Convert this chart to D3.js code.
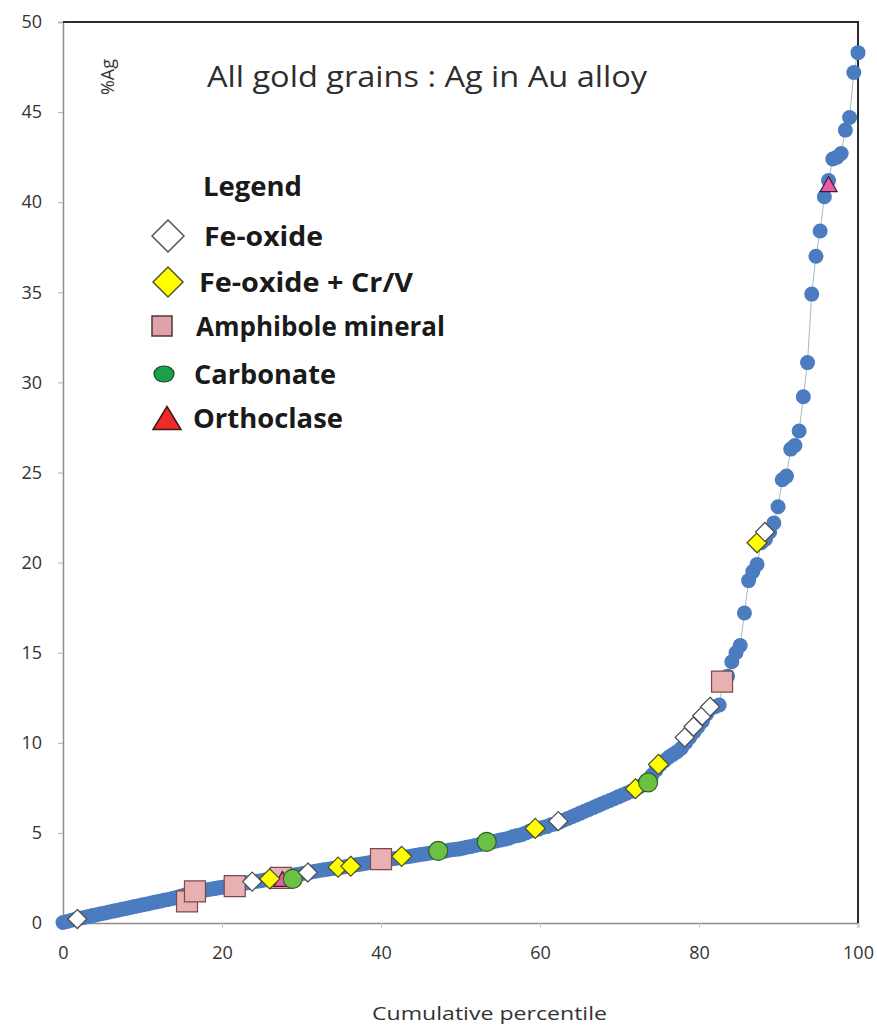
<!DOCTYPE html>
<html>
<head>
<meta charset="utf-8">
<script src="https://cdn.jsdelivr.net/npm/d3@7"></script>
<style>
  html, body { margin: 0; padding: 0; background: #ffffff; }
  svg { display: block; }
</style>
</head>
<body>
<svg id="chart" width="877" height="1036"></svg>
<script>
// %Ag of every gold grain, sorted ascending (cumulative distribution)
const agSorted = [
  0.03,0.09,0.15,0.21,0.26,0.31,0.36,0.41,0.46,0.51,
  0.56,0.61,0.66,0.71,0.76,0.81,0.86,0.91,0.96,1.01,
  1.06,1.11,1.16,1.21,1.26,1.31,1.36,1.42,1.48,1.55,
  1.62,1.68,1.74,1.79,1.83,1.87,1.91,1.95,1.99,2.03,
  2.07,2.11,2.15,2.19,2.23,2.27,2.31,2.35,2.39,2.43,
  2.47,2.51,2.55,2.59,2.63,2.67,2.71,2.75,2.79,2.83,
  2.87,2.91,2.95,2.98,3.02,3.05,3.08,3.12,3.16,3.20,
  3.24,3.28,3.32,3.36,3.40,3.43,3.47,3.50,3.55,3.58,
  3.62,3.65,3.68,3.72,3.76,3.80,3.83,3.87,3.90,3.93,
  3.97,4.00,4.05,4.08,4.10,4.15,4.20,4.25,4.30,4.35,
  4.40,4.45,4.50,4.55,4.60,4.65,4.70,4.80,4.85,4.90,
  5.00,5.10,5.15,5.20,5.30,5.35,5.45,5.50,5.60,5.70,
  5.80,5.90,6.00,6.10,6.20,6.30,6.40,6.50,6.60,6.70,
  6.80,6.90,7.00,7.10,7.20,7.30,7.40,7.55,7.70,7.90,
  8.20,8.50,8.80,9.00,9.20,9.35,9.50,9.70,10.0,10.3,
  10.6,10.9,11.2,11.6,11.9,12.0,12.1,13.4,13.7,14.5,
  15.0,15.4,17.2,19.0,19.5,19.9,21.1,21.3,21.7,22.2,
  23.1,24.6,24.8,26.3,26.5,27.3,29.2,31.1,34.9,37.0,
  38.4,40.3,41.2,42.4,42.5,42.7,44.0,44.7,47.2,48.3
];

// Grains with an identified inclusion mineral: cumulative percentile and %Ag
const feOxidePct = [1.8, 23.8, 30.8, 62.3, 78.2, 79.3, 80.4, 81.4, 88.3];
const feOxideAg  = [0.22, 2.3, 2.8, 5.65, 10.3, 10.9, 11.5, 12.0, 21.7];
const feOxideCrVPct = [26.0, 34.6, 36.2, 42.6, 59.4, 72.0, 74.9, 87.3];
const feOxideCrVAg  = [2.45, 3.1, 3.15, 3.7, 5.25, 7.45, 8.8, 21.1];
const amphibolePct = [15.6, 16.6, 21.6, 27.4, 40.0, 82.9];
const amphiboleAg  = [1.2, 1.75, 2.05, 2.5, 3.55, 13.4];
const carbonatePct = [28.9, 47.2, 53.3, 73.6];
const carbonateAg  = [2.45, 4.0, 4.5, 7.8];
const orthoclasePct = [27.6, 96.3];
const orthoclaseAg  = [2.45, 41.0];

// Axis ticks
const yTicks = [0, 5, 10, 15, 20, 25, 30, 35, 40, 45, 50];
const xTicks = [0, 20, 40, 60, 80, 100];

const legendItems = [
  { label: "Fe-oxide", key: "feOxide" },
  { label: "Fe-oxide + Cr/V", key: "feOxideCrV" },
  { label: "Amphibole mineral", key: "amphibole" },
  { label: "Carbonate", key: "carbonate" },
  { label: "Orthoclase", key: "orthoclase" }
];

const FONT = "'Open Sans', 'Noto Sans', sans-serif";
const svg = d3.select("#chart");

const plot = { left: 63, right: 858, top: 22, bottom: 923 };
const x = d3.scaleLinear().domain([0, 100]).range([plot.left, plot.right]);
const y = d3.scaleLinear().domain([0, 50]).range([plot.bottom, plot.top]);

// Axes
const yAxis = d3.axisLeft(y).tickValues(yTicks).tickSize(5).tickPadding(16).tickFormat(d3.format("d"));
const gy = svg.append("g").attr("transform", `translate(${plot.left},0)`).call(yAxis);
gy.select(".domain").attr("stroke", "#8c8c8c").attr("stroke-width", 1.5);
gy.selectAll(".tick line").attr("stroke", "#b0b0b0");
gy.selectAll(".tick text").attr("font-family", FONT).attr("font-size", 18).attr("fill", "#333");

const xAxis = d3.axisBottom(x).tickValues(xTicks).tickSize(5).tickPadding(18).tickFormat(d3.format("d"));
const gx = svg.append("g").attr("transform", `translate(0,${plot.bottom})`).call(xAxis);
gx.select(".domain").attr("stroke", "#8c8c8c").attr("stroke-width", 1.5);
gx.selectAll(".tick line").attr("stroke", "#c8c8c8");
gx.selectAll(".tick text").attr("font-family", FONT).attr("font-size", 18).attr("fill", "#333");

// Dark frame on the top and right sides
svg.append("path")
  .attr("d", `M${plot.left},${plot.top}H${plot.right}V${plot.bottom}`)
  .attr("fill", "none").attr("stroke", "#2b2b2b").attr("stroke-width", 2);

// All grains
const pts = agSorted.map((v, i) => ({ p: i / (agSorted.length - 1) * 100, v }));

svg.append("path")
  .datum(pts)
  .attr("d", d3.line().x(d => x(d.p)).y(d => y(d.v)))
  .attr("fill", "none").attr("stroke", "#a9b8cc").attr("stroke-width", 1);

svg.append("g").selectAll("circle").data(pts).join("circle")
  .attr("cx", d => x(d.p)).attr("cy", d => y(d.v)).attr("r", 7.5)
  .attr("fill", "#4a7cbf");

// Marker shapes
const diamond = s => `M0,${-s}L${s},0L0,${s}L${-s},0Z`;
const square = s => `M${-s},${-s}H${s}V${s}H${-s}Z`;
const triangle = (w, h) => `M0,${-h / 2}L${w / 2},${h / 2}L${-w / 2},${h / 2}Z`;

function overlay(pcts, ags, draw) {
  const data = pcts.map((p, i) => ({ p, v: ags[i] }));
  const g = svg.append("g").selectAll("g").data(data).join("g")
    .attr("transform", d => `translate(${x(d.p)},${y(d.v)})`);
  draw(g);
}

overlay(amphibolePct, amphiboleAg, g => g.append("path").attr("d", square(10.5))
  .attr("fill", "#e8b0b0").attr("stroke", "#7a4a4a").attr("stroke-width", 1.2));
overlay(orthoclasePct, orthoclaseAg, g => g.append("path").attr("d", triangle(17, 15))
  .attr("fill", "#ef5aa6").attr("stroke", "#3a2030").attr("stroke-width", 1.2));
overlay(feOxideCrVPct, feOxideCrVAg, g => g.append("path").attr("d", diamond(10))
  .attr("fill", "#ffff00").attr("stroke", "#4a4a2a").attr("stroke-width", 1.2));
overlay(carbonatePct, carbonateAg, g => g.append("circle").attr("r", 9.5)
  .attr("fill", "#6cc043").attr("stroke", "#2e5e2e").attr("stroke-width", 1.2));
overlay(feOxidePct, feOxideAg, g => g.append("path").attr("d", diamond(9.5))
  .attr("fill", "#ffffff").attr("stroke", "#4a4a4a").attr("stroke-width", 1.2));

// Title and axis titles
svg.append("text").attr("x", 207).attr("y", 87)
  .attr("font-family", FONT).attr("font-size", 29).attr("fill", "#2e2e2e")
  .attr("textLength", 440).attr("lengthAdjust", "spacingAndGlyphs")
  .text("All gold grains : Ag in Au alloy");

svg.append("text").attr("transform", "translate(114,77) rotate(-90)")
  .attr("text-anchor", "middle")
  .attr("font-family", FONT).attr("font-size", 18).attr("fill", "#333")
  .text("%Ag");

svg.append("text").attr("x", 372).attr("y", 1020)
  .attr("font-family", FONT).attr("font-size", 19).attr("fill", "#333")
  .attr("textLength", 235).attr("lengthAdjust", "spacingAndGlyphs")
  .text("Cumulative percentile");

// Legend
svg.append("text").attr("x", 203).attr("y", 196)
  .attr("font-family", FONT).attr("font-weight", 700).attr("font-size", 26).attr("fill", "#1a1a1a")
  .attr("textLength", 99).attr("lengthAdjust", "spacingAndGlyphs")
  .text("Legend");

const legendRows = [
  { cy: 236, tx: 204, w: 119 },
  { cy: 282, tx: 199, w: 214 },
  { cy: 326, tx: 196, w: 249 },
  { cy: 374, tx: 194, w: 142 },
  { cy: 418, tx: 193, w: 150 }
];
const legendSym = {
  feOxide: g => g.append("path").attr("d", diamond(16)).attr("transform", "translate(168,0)")
    .attr("fill", "#fff").attr("stroke", "#555").attr("stroke-width", 1.5),
  feOxideCrV: g => g.append("path").attr("d", diamond(15)).attr("transform", "translate(168,0)")
    .attr("fill", "#ffff00").attr("stroke", "#555533").attr("stroke-width", 1.5),
  amphibole: g => g.append("path").attr("d", square(10)).attr("transform", "translate(162,0)")
    .attr("fill", "#e0a2a8").attr("stroke", "#4a3a3a").attr("stroke-width", 1.5),
  carbonate: g => g.append("ellipse").attr("cx", 164).attr("rx", 10).attr("ry", 8)
    .attr("fill", "#1ba04a").attr("stroke", "#1e4a2a").attr("stroke-width", 1.2),
  orthoclase: g => g.append("path").attr("d", triangle(28, 23)).attr("transform", "translate(167,0)")
    .attr("fill", "#ee2a2a").attr("stroke", "#3a1a1a").attr("stroke-width", 1.5)
};
legendItems.forEach((item, i) => {
  const row = legendRows[i];
  const g = svg.append("g").attr("transform", `translate(0,${row.cy})`);
  legendSym[item.key](g);
  g.append("text").attr("x", row.tx).attr("y", 10)
    .attr("font-family", FONT).attr("font-weight", 700).attr("font-size", 26).attr("fill", "#1a1a1a")
    .attr("textLength", row.w).attr("lengthAdjust", "spacingAndGlyphs")
    .text(item.label);
});
</script>
</body>
</html>
